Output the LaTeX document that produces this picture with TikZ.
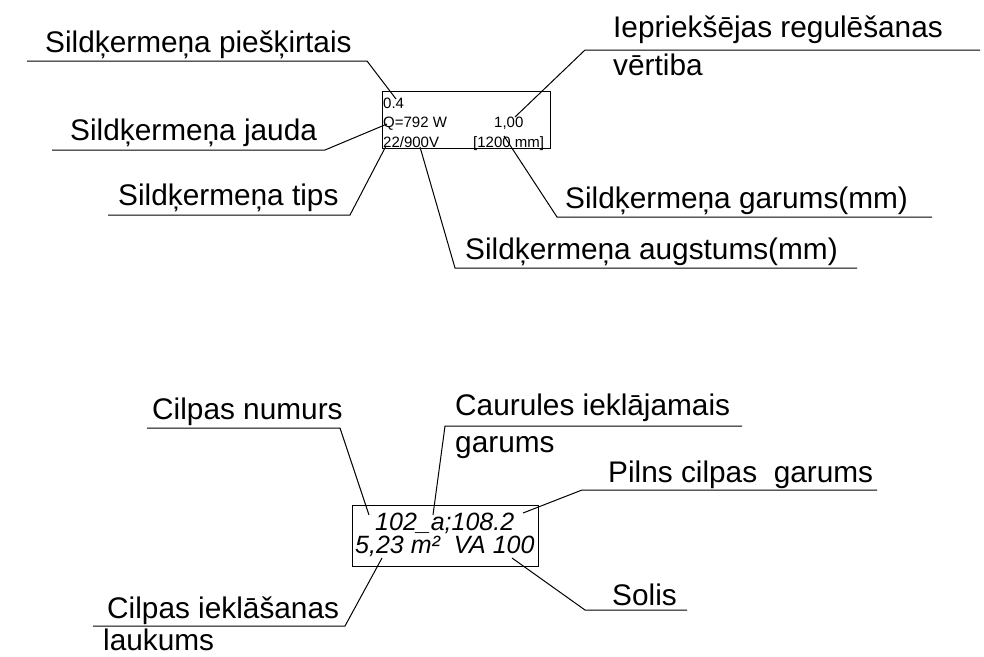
\documentclass[tikz,border=0pt]{standalone}
\usepackage{fontspec}
\setmainfont{Liberation Sans}
\begin{document}
\begin{tikzpicture}[x=1pt,y=-1pt,
  lbl/.style={anchor=base west,inner sep=0pt,font=\fontsize{29.8}{32}\selectfont},
  small/.style={anchor=base west,inner sep=0pt,font=\fontsize{15}{17}\selectfont},
  big/.style={anchor=base west,inner sep=0pt,font=\fontsize{25}{28}\selectfont\itshape},
  lead/.style={line width=1pt,black},
  frame/.style={draw,line width=1pt,inner sep=0pt}]
\useasboundingbox (0,0) rectangle (984,656);
% ---- top box
\node[frame,minimum width=168pt,minimum height=57pt,anchor=north west] (box1) at (382,91) {};
\node[small] (t04) at (383,108) {0.4};
\node[small] (tQ) at (383,127) {Q=792 W};
\node[small] (t22) at (383,147) {22/900V};
\node[small] (t100) at (494,127) {1,00};
\node[small] (t1200) at (473,147) {[1200 mm]};
% labels top
\node[lbl] (l1) at (45,52) {Sildķermeņa piešķirtais};
\node[lbl] (l2) at (70,140) {Sildķermeņa jauda};
\node[lbl] (l3) at (118,205) {Sildķermeņa tips};
\node[lbl] (l4) at (613,37) {Iepriekšējas regulēšanas};
\node[lbl] (l4b) at (613,75) {vērtiba};
\node[lbl] (l5) at (565,208) {Sildķermeņa garums(mm)};
\node[lbl] (l6) at (465,259) {Sildķermeņa augstums(mm)};
% leader points top
\coordinate (a1) at (27,61);   \coordinate (b1) at (367,61);   \coordinate (c1) at (396,99);
\coordinate (a2) at (52,150);  \coordinate (b2) at (325,150);  \coordinate (c2) at (387,124);
\coordinate (a3) at (108,215); \coordinate (b3) at (350,215);  \coordinate (c3) at (386,146);
\coordinate (a4) at (980,50);  \coordinate (b4) at (585,50);   \coordinate (c4) at (515,117);
\coordinate (a5) at (932,217); \coordinate (b5) at (557,217);  \coordinate (c5) at (504,136);
\coordinate (a6) at (857,268); \coordinate (b6) at (455,268);  \coordinate (c6) at (420,147);
\draw[lead] (a1) -- (b1) -- (c1);
\draw[lead] (a2) -- (b2) -- (c2);
\draw[lead] (a3) -- (b3) -- (c3);
\draw[lead] (a4) -- (b4) -- (c4);
\draw[lead] (a5) -- (b5) -- (c5);
\draw[lead] (a6) -- (b6) -- (c6);
% ---- bottom box
\node[frame,minimum width=186pt,minimum height=61pt,anchor=north west] (box2) at (352,505) {};
\node[big] (n1) at (375,530) {102\_a;108.2};
\node[big] (n2) at (355,553) {5,23 m²\ \ VA 100};
% labels bottom
\node[lbl] (m1) at (152,419) {Cilpas numurs};
\node[lbl] (m2) at (455,415) {Caurules ieklājamais};
\node[lbl] (m2b) at (455,452) {garums};
\node[lbl] (m3) at (608,482) {Pilns cilpas\ \ garums};
\node[lbl] (m4) at (612,605) {Solis};
\node[lbl] (m5) at (107,618) {Cilpas ieklāšanas};
\node[lbl] (m5b) at (103,650) {laukums};
% leader points bottom
\coordinate (p1) at (147,428); \coordinate (q1) at (340,428); \coordinate (r1) at (369,515);
\coordinate (p2) at (742,426); \coordinate (q2) at (445,426); \coordinate (r2) at (433,515);
\coordinate (p3) at (877,490); \coordinate (q3) at (582,490); \coordinate (r3) at (523,513);
\coordinate (p4) at (687,610); \coordinate (q4) at (585,610); \coordinate (r4) at (512,558);
\coordinate (p5) at (93,626);  \coordinate (q5) at (345,626); \coordinate (r5) at (382,558);
\draw[lead] (p1) -- (q1) -- (r1);
\draw[lead] (p2) -- (q2) -- (r2);
\draw[lead] (p3) -- (q3) -- (r3);
\draw[lead] (p4) -- (q4) -- (r4);
\draw[lead] (p5) -- (q5) -- (r5);
\end{tikzpicture}
\end{document}
